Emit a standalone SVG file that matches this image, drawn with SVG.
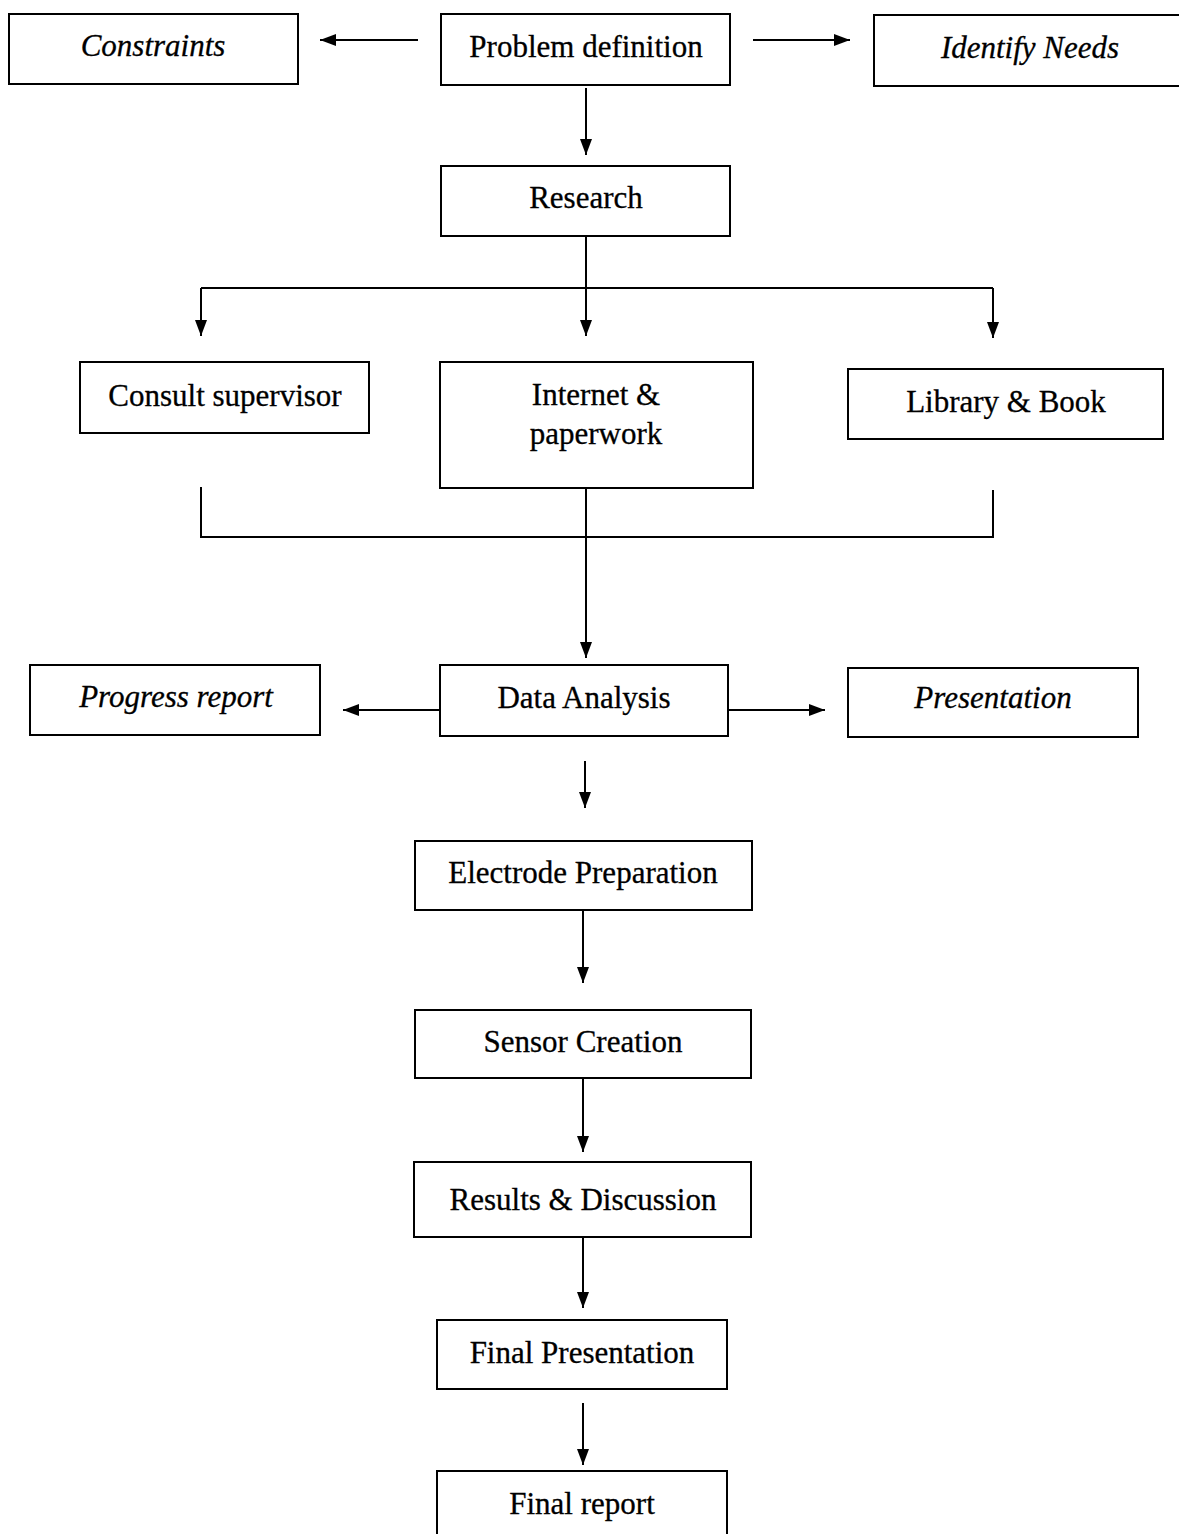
<svg xmlns="http://www.w3.org/2000/svg" width="1179" height="1534" viewBox="0 0 1179 1534">
<defs>
<marker id="ah" viewBox="0 0 16 12" refX="16" refY="6" markerWidth="16" markerHeight="12" markerUnits="userSpaceOnUse" orient="auto">
<path d="M0,0 L16,6 L0,12 Z" fill="#000"/>
</marker>
<style>
rect{fill:#fff;stroke:#000;stroke-width:2}
text{font-family:"Liberation Serif","Times New Roman",serif;font-size:31px;fill:#000;text-anchor:middle;stroke:#000;stroke-width:0.3}
.it{font-style:italic}
.c line,.c path{stroke:#000;stroke-width:2;fill:none}
</style>
</defs>
<rect x="0" y="0" width="1179" height="1534" style="stroke:none"/>
<g class="c" id="connectors">
<line x1="418" y1="40" x2="320" y2="40" marker-end="url(#ah)"/>
<line x1="753" y1="40" x2="850" y2="40" marker-end="url(#ah)"/>
<line x1="586" y1="88" x2="586" y2="155" marker-end="url(#ah)"/>
<line x1="586" y1="236" x2="586" y2="336" marker-end="url(#ah)"/>
<line x1="201" y1="288" x2="993" y2="288"/>
<line x1="201" y1="288" x2="201" y2="336" marker-end="url(#ah)"/>
<line x1="993" y1="288" x2="993" y2="338" marker-end="url(#ah)"/>
<path d="M201,487 V537 H993 V490"/>
<line x1="586" y1="488" x2="586" y2="658" marker-end="url(#ah)"/>
<line x1="440" y1="710" x2="343" y2="710" marker-end="url(#ah)"/>
<line x1="728" y1="710" x2="825" y2="710" marker-end="url(#ah)"/>
<line x1="585" y1="761" x2="585" y2="808" marker-end="url(#ah)"/>
<line x1="583" y1="910" x2="583" y2="983" marker-end="url(#ah)"/>
<line x1="583" y1="1078" x2="583" y2="1152" marker-end="url(#ah)"/>
<line x1="583" y1="1237" x2="583" y2="1308" marker-end="url(#ah)"/>
<line x1="583" y1="1403" x2="583" y2="1465" marker-end="url(#ah)"/>
</g>
<g id="constraints"><rect x="9" y="14" width="289" height="70"/><text class="it" x="153" y="56">Constraints</text></g>
<g id="problem"><rect x="441" y="14" width="289" height="71"/><text x="586" y="57">Problem definition</text></g>
<g id="needs"><rect x="874" y="15" width="310" height="71"/><text class="it" x="1030" y="58">Identify Needs</text></g>
<g id="research"><rect x="441" y="166" width="289" height="70"/><text x="586" y="208">Research</text></g>
<g id="consult"><rect x="80" y="362" width="289" height="71"/><text x="225" y="406">Consult supervisor</text></g>
<g id="internet"><rect x="440" y="362" width="313" height="126"/><text x="596" y="405">Internet &amp;</text><text x="596" y="444">paperwork</text></g>
<g id="library"><rect x="848" y="369" width="315" height="70"/><text x="1006" y="412">Library &amp; Book</text></g>
<g id="progress"><rect x="30" y="665" width="290" height="70"/><text class="it" x="176" y="707">Progress report</text></g>
<g id="analysis"><rect x="440" y="665" width="288" height="71"/><text x="584" y="708">Data Analysis</text></g>
<g id="presentation"><rect x="848" y="668" width="290" height="69"/><text class="it" x="993" y="708">Presentation</text></g>
<g id="electrode"><rect x="415" y="841" width="337" height="69"/><text x="583" y="883">Electrode Preparation</text></g>
<g id="sensor"><rect x="415" y="1010" width="336" height="68"/><text x="583" y="1052">Sensor Creation</text></g>
<g id="results"><rect x="414" y="1162" width="337" height="75"/><text x="583" y="1210">Results &amp; Discussion</text></g>
<g id="finalpres"><rect x="437" y="1320" width="290" height="69"/><text x="582" y="1363">Final Presentation</text></g>
<g id="finalreport"><rect x="437" y="1471" width="290" height="75"/><text x="582" y="1514">Final report</text></g>
</svg>
